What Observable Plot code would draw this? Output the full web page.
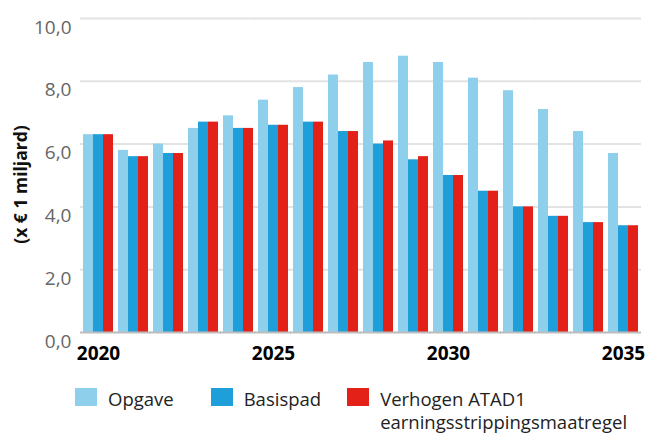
<!DOCTYPE html>
<html><head><meta charset="utf-8">
<script src="https://cdn.jsdelivr.net/npm/d3@7"></script>
<script src="https://cdn.jsdelivr.net/npm/@observablehq/plot@0.6"></script>
<style>
body{margin:0;background:#fff;font-family:"Open Sans",sans-serif;}
#chart{position:relative;width:648px;height:434px;overflow:hidden}
#chart svg{display:block}
.legend{position:absolute;left:75px;top:387px;display:flex;align-items:flex-start;font-size:18.5px;line-height:23px;color:#222}
.item{display:flex;align-items:flex-start}
.item span.lbl{max-width:262px}
.sw{width:22px;height:18px;margin-top:1px;margin-right:11px;flex:none}
</style></head><body><div id="chart"></div>
<script>
const years = [2020,2021,2022,2023,2024,2025,2026,2027,2028,2029,2030,2031,2032,2033,2034,2035];
const series = ["Opgave","Basispad","Verhogen ATAD1 earningsstrippingsmaatregel"];
const opgave   = [6.3,5.8,6.0,6.5,6.9,7.4,7.8,8.2,8.6,8.8,8.6,8.1,7.7,7.1,6.4,5.7];
const basispad = [6.3,5.6,5.7,6.7,6.5,6.6,6.7,6.4,6.0,5.5,5.0,4.5,4.0,3.7,3.5,3.4];
const verhogen = [6.3,5.6,5.7,6.7,6.5,6.6,6.7,6.4,6.1,5.6,5.0,4.5,4.0,3.7,3.5,3.4];
const colors = ["#8ecfec","#1e9fda","#e42119"];
const yTicks = [0,2,4,6,8,10];
const xLabelYears = [2020,2025,2030,2035];
const yLabel = "(x € 1 miljard)";

const values = [opgave, basispad, verhogen];
const data = years.flatMap((yr,i) => series.map((s,j) => ({year: yr, series: s, value: values[j][i]})));
const fmtY = d => d.toFixed(1).replace(".", ",");

const plot = Plot.plot({
  width: 648, height: 372,
  marginLeft: 81, marginRight: 9, marginTop: 18, marginBottom: 40,
  style: {fontFamily: "Open Sans", fontSize: "19px", background: "#fff", overflow: "visible"},
  facet: {data: data, x: "year"},
  fx: {domain: years, paddingInner: 0.15, paddingOuter: 0, tickSize: 0, tickPadding: 14,
       tickFormat: d => xLabelYears.includes(d) ? String(d) : "", label: null},
  x: {domain: series, padding: 0, axis: null},
  y: {domain: [0,10], ticks: yTicks, tickSize: 0, tickPadding: 12, tickFormat: fmtY,
      label: yLabel, labelAnchor: "center", labelOffset: 69},
  color: {domain: series, range: colors},
  marks: [
    Plot.ruleY(yTicks.filter(d => d > 0), {stroke: "#e3e3e3", strokeWidth: 2, insetLeft: -3, insetRight: -3}),
    Plot.barY(data, {x: "series", y: "value", fill: "series"}),
    Plot.ruleY([0], {stroke: "#bdbdbd", strokeWidth: 2, insetLeft: -3, insetRight: -3})
  ]
});

const chart = document.getElementById("chart");
chart.appendChild(plot);

d3.select(plot).selectAll("text").each(function() {
  const t = this.textContent.trim();
  const s = d3.select(this);
  if (t.startsWith(yLabel)) {
    this.textContent = yLabel;
    s.style("font-weight", "bold").style("font-size", "17.5px").style("fill", "#111").attr("dx", -9);
  } else if (/^\d+,\d$/.test(t)) {
    s.style("fill", "#666").style("font-size", "19px").attr("dy", "0.47em");
  } else if (/^\d{4}$/.test(t)) {
    s.style("font-weight", "bold").style("fill", "#000").style("font-size", "19px");
  }
});

const legendGaps = [37, 26, 0];
const legend = document.createElement("div");
legend.className = "legend";
series.forEach((s, j) => {
  const item = document.createElement("div");
  item.className = "item";
  item.style.marginRight = legendGaps[j] + "px";
  const sw = document.createElement("div");
  sw.className = "sw";
  sw.style.background = colors[j];
  const lbl = document.createElement("span");
  lbl.className = "lbl";
  lbl.textContent = s;
  item.appendChild(sw); item.appendChild(lbl);
  legend.appendChild(item);
});
chart.appendChild(legend);
</script>
</body></html>
